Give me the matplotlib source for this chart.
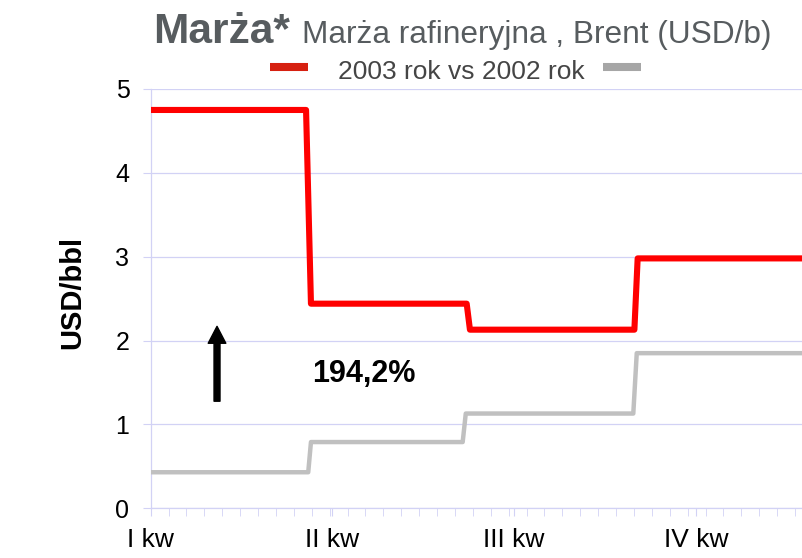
import numpy as np
import matplotlib.pyplot as plt
from matplotlib.lines import Line2D

plt.rcParams['font.family'] = ['Liberation Sans', 'DejaVu Sans']

# kwartały na osi X
quarters = [0, 1, 2, 3]
quarter_labels = ['I kw', 'II kw', 'III kw', 'IV kw']

# marża 2003 (USD/bbl) - punkty
x_2003 = [0, 0.855, 0.882, 1.739, 1.757, 2.662, 2.680, 3.7]
y_2003 = [4.75, 4.75, 2.44, 2.44, 2.13, 2.13, 2.98, 2.98]

# marża 2002 (USD/bbl)
x_2002 = [0, 0.867, 0.882, 1.717, 1.734, 2.656, 2.675, 3.7]
y_2002 = [0.43, 0.43, 0.79, 0.79, 1.13, 1.13, 1.85, 1.85]

change_label = '194,2%'

W, H = 802, 558
fig = plt.figure(figsize=(W / 100, H / 100), dpi=100)
ax = fig.add_axes([150.7 / W, 1 - 508.3 / H, (W - 150.7) / W, (508.3 - 89) / H])

grid_c = '#D2D2F5'
ax.plot(x_2002, y_2002, color='#C0C0C0', lw=3.2, solid_joinstyle='round', solid_capstyle='round', zorder=3)
ax.plot(x_2003, y_2003, color='#FF0000', lw=4.4, solid_joinstyle='round', solid_capstyle='round', zorder=4)

ax.set_xlim(0, (W - 150.7) / 181.7)
ax.set_ylim(0, 5)
ax.set_yticks(range(0, 6))
ax.set_xticks(quarters)
ax.set_xticklabels(quarter_labels, fontsize=19)
ax.set_xticks(np.arange(0, 3.6, 0.0985), minor=True)
ax.yaxis.grid(True, color=grid_c, lw=0.9)
ax.set_axisbelow(True)

for s in ['top', 'right']:
    ax.spines[s].set_visible(False)
for s in ['left', 'bottom']:
    ax.spines[s].set_color(grid_c)
    ax.spines[s].set_linewidth(0.9)

ax.tick_params(axis='y', length=5.8, color=grid_c, labelsize=18, pad=9.5)
ax.tick_params(axis='x', which='both', length=5.5, color=grid_c, pad=8.5)

# strzałka i opis wzrostu
ax.annotate('', xy=(0.365, 2.17), xytext=(0.365, 1.277),
            arrowprops=dict(facecolor='black', edgecolor='black', width=4.3,
                            headwidth=12.7, headlength=12.2, shrink=0))
ax.text(0.886, 1.504, change_label, fontsize=22, fontweight='bold', va='baseline', ha='left')

# tytuł
title_c = '#575C5F'
fig.text(153 / W, 1 - 42.7 / H, 'Marża*', fontsize=30.5, fontweight='bold', color=title_c, va='baseline', ha='left')
fig.text(301.7 / W, 1 - 42.7 / H, 'Marża rafineryjna , Brent (USD/b)', fontsize=22.8, color=title_c,
         va='baseline', ha='left')

# legenda
ly = 1 - 66.7 / H
fig.add_artist(Line2D([270 / W, 308 / W], [ly, ly], color='#D62010', lw=5.8, solid_capstyle='butt'))
fig.add_artist(Line2D([603 / W, 641 / W], [ly, ly], color='#A6A6A6', lw=5.8, solid_capstyle='butt'))
fig.text(461.5 / W, 1 - 79 / H, '2003 rok vs 2002 rok', fontsize=19, color='#454545', va='baseline', ha='center')

fig.text(72.5 / W, 1 - 292 / H, 'USD/bbl', fontsize=21, fontweight='bold', rotation=90, va='center', ha='center')

fig.savefig('out.png', dpi=100)
